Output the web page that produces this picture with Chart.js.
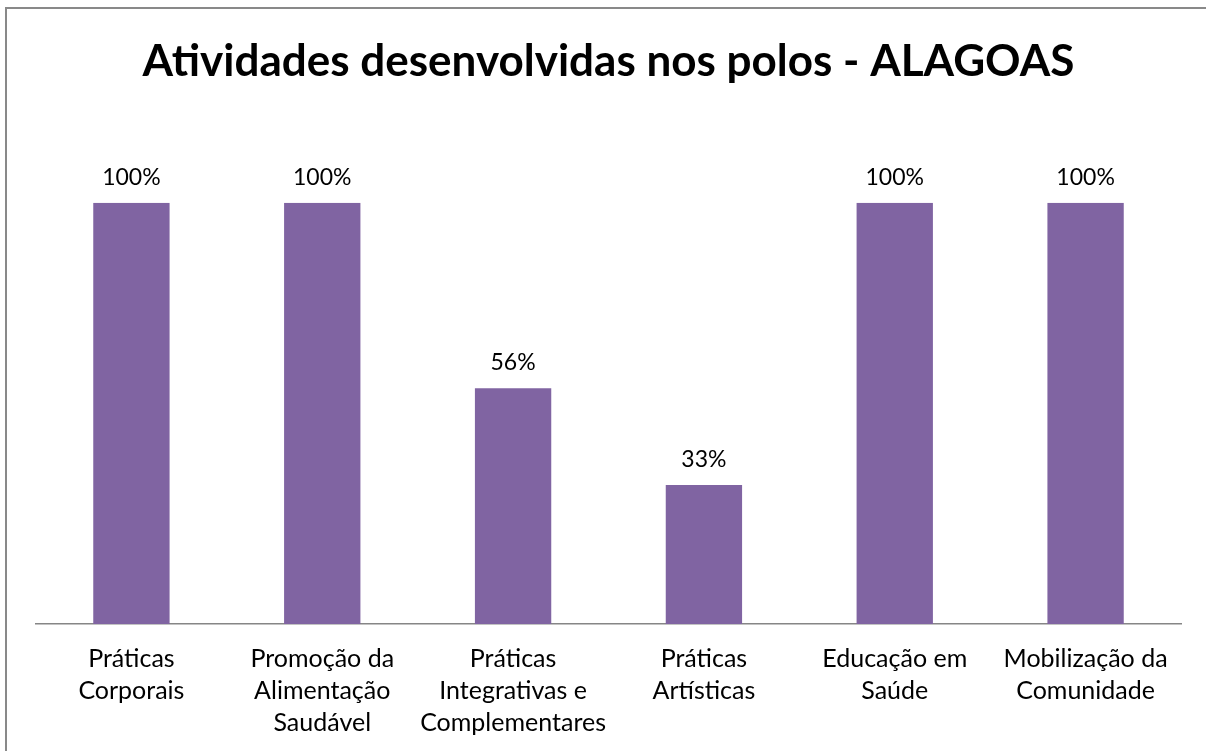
<!DOCTYPE html>
<html lang="pt-BR">
<head>
<meta charset="utf-8">
<title>Atividades desenvolvidas nos polos - ALAGOAS</title>
<script src="https://cdn.jsdelivr.net/npm/chart.js@4.4.1/dist/chart.umd.min.js"></script>
<style>
  html, body { margin: 0; padding: 0; background: #fff; }
  #quadro { position: relative; width: 1206px; height: 751px; overflow: hidden; }
  #moldura {
    position: absolute; left: 5px; top: 7px; width: 1220px; height: 770px;
    border: 2px solid #898989; box-sizing: border-box; pointer-events: none;
  }
  canvas { display: block; }
</style>
</head>
<body>
<div id="quadro">
  <canvas id="graficoPolos" width="1206" height="751"></canvas>
  <div id="moldura"></div>
</div>
<script>
const titulo = 'Atividades desenvolvidas nos polos - ALAGOAS';

const categorias = [
    ['Práticas', 'Corporais'],
    ['Promoção da', 'Alimentação', 'Saudável'],
    ['Práticas', 'Integrativas e', 'Complementares'],
    ['Práticas', 'Artísticas'],
    ['Educação em', 'Saúde'],
    ['Mobilização da', 'Comunidade']
];

const percentuais = [100, 100, 56, 33, 100, 100];

const corBarra = '#8064A2';
const fonte = 'Lato, "Open Sans", sans-serif';

// rótulos de valor em cima de cada barra
const rotulosBarras = {
    id: 'rotulosBarras',
    afterDatasetsDraw(chart) {
        const ctx = chart.ctx;
        const meta = chart.getDatasetMeta(0);
        ctx.save();
        ctx.font = '23px ' + fonte;
        ctx.fillStyle = '#000';
        ctx.textAlign = 'center';
        ctx.textBaseline = 'alphabetic';
        meta.data.forEach((barra, i) => {
            ctx.fillText(percentuais[i] + '%', barra.x, barra.y - 18);
        });
        ctx.restore();
    }
};

function montarGrafico() {
    const ctx = document.getElementById('graficoPolos');
    new Chart(ctx, {
        type: 'bar',
        data: {
            labels: categorias,
            datasets: [{
                label: 'Atividades',
                data: percentuais,
                backgroundColor: corBarra,
                borderWidth: 0,
                categoryPercentage: 1,
                barPercentage: 0.4
            }]
        },
        options: {
            responsive: false,
            animation: false,
            devicePixelRatio: 1,
            layout: {
                padding: { left: 36, right: 25, top: 0, bottom: 0 }
            },
            plugins: {
                legend: { display: false },
                tooltip: { enabled: false },
                title: {
                    display: true,
                    text: titulo,
                    color: '#000',
                    font: { family: fonte, size: 44, weight: 'bold', lineHeight: 1.2 },
                    padding: { top: 35, bottom: 115 }
                }
            },
            scales: {
                x: {
                    grid: { display: false },
                    border: { display: true, color: '#868686', width: 1.5 },
                    afterFit(escala) { escala.height = 127; },
                    ticks: {
                        color: '#000',
                        autoSkip: false,
                        maxRotation: 0,
                        padding: 11,
                        font: { family: fonte, size: 25, lineHeight: 1.28 }
                    }
                },
                y: {
                    display: false,
                    min: 0,
                    max: 100
                }
            }
        },
        plugins: [rotulosBarras]
    });
}

document.addEventListener('DOMContentLoaded', montarGrafico);
</script>
</body>
</html>
